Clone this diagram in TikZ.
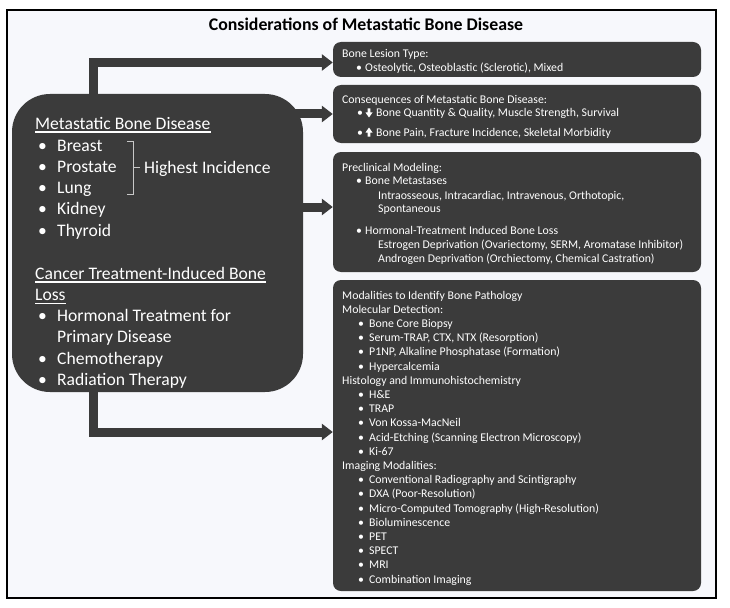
\documentclass[tikz,border=0pt]{standalone}
\usepackage{fontspec}
\setmainfont{Carlito}
\usetikzlibrary{arrows.meta}
\definecolor{boxgray}{HTML}{3B3B3B}
\definecolor{bgtint}{HTML}{F7F8FC}
\definecolor{brk}{HTML}{C8C8C8}
\tikzset{
  box/.style={fill=boxgray, draw=none, rounded corners=8pt, inner sep=0pt, minimum width=368pt},
  sm/.style={font=\fontsize{11.8}{14.2}\selectfont, text=white, anchor=base west, inner sep=0pt},
  lg/.style={font=\fontsize{17.6}{21.3}\selectfont, text=white, anchor=base west, inner sep=0pt},
  conn/.style={line width=9pt, draw=boxgray, -{Triangle[length=11pt,width=16pt]}},
  uline/.style={draw=white, line width=1.1pt},
  icon/.style={fill=white, draw=none},
}
\newcommand{\bsm}{\makebox[9pt][l]{•}}
\newcommand{\bsmw}{\makebox[11pt][l]{•}}
\newcommand{\blg}{\makebox[19pt][l]{•}}
\begin{document}
\begin{tikzpicture}[x=1pt,y=-1pt]
\useasboundingbox (0,0) rectangle (730,607);
\fill[white] (0,0) rectangle (730,607);
\node[draw=black, line width=2pt, fill=bgtint, minimum width=709pt, minimum height=588pt, inner sep=0pt] (frame) at (361.5,304) {};
\node[font=\fontsize{17.8}{21}\selectfont\bfseries, anchor=base, inner sep=0pt] (title) at (366,31) {Considerations of Metastatic Bone Disease};

% boxes
\node[box, rounded corners=38pt, minimum width=291pt, minimum height=298pt] (mbd) at (157.5,243) {};
\node[box, minimum height=35pt] (box1) at (517,59.5) {};
\node[box, minimum height=58pt] (box2) at (517,114) {};
\node[box, minimum height=120pt] (box3) at (517,212) {};
\node[box, minimum height=311pt] (box4) at (517,435.5) {};

% connectors
\coordinate (stem) at (93.5,0);
\coordinate (a1) at ([yshift=-3pt]box1.west);
\coordinate (a3) at ([yshift=5pt]box3.west);
\coordinate (a4) at ([yshift=3.5pt]box4.west);
\draw[conn, shorten <=-4pt] (mbd.north -| stem) |- (a1);
\draw[conn, shorten <=-12pt] (mbd.east |- box2.west) -- (box2.west);
\draw[conn, shorten <=-12pt] (mbd.east |- a3) -- (a3);
\draw[conn, shorten <=-4pt] (mbd.south -| stem) |- (a4);

% left box text
\node[lg] (m0) at (35,129) {Metastatic Bone Disease};
\draw[uline] ([yshift=-3pt]m0.base west) -- ([yshift=-3pt]m0.base east);
\node[lg] (m1) at (38,151) {\blg Breast};
\node[lg] (m2) at (38,172.3) {\blg Prostate};
\node[lg] (m3) at (38,193.6) {\blg Lung};
\node[lg] (m4) at (38,214.9) {\blg Kidney};
\node[lg] (m5) at (38,236.2) {\blg Thyroid};
\coordinate (bk1) at (127,141);
\coordinate (bk2) at (127,194);
\coordinate (bk3) at (133,167.5);
\draw[brk, line width=0.8pt] (bk1) -- ++(6,0) |- (bk2);
\node[lg] (hi) at (144,173) {Highest Incidence};
\draw[brk, line width=0.8pt] (bk3) -- ++(7,0);
\node[lg] (c0) at (35,279) {Cancer Treatment-Induced Bone};
\draw[uline] ([yshift=-3pt]c0.base west) -- ([yshift=-3pt]c0.base east);
\node[lg] (c0b) at (35,300.3) {Loss};
\draw[uline] ([yshift=-3pt]c0b.base west) -- ([yshift=-3pt]c0b.base east);
\node[lg] (c1) at (38,321.6) {\blg Hormonal Treatment for};
\node[lg] (c1b) at (57,342.9) {Primary Disease};
\node[lg] (c2) at (38,364.2) {\blg Chemotherapy};
\node[lg] (c3) at (38,385.5) {\blg Radiation Therapy};

% box 1
\node[sm] (t10) at (342,57.5) {Bone Lesion Type:};
\node[sm] (t11) at (356,72) {\bsm Osteolytic, Osteoblastic (Sclerotic), Mixed};

% box 2
\node[sm] (t20) at (342,103) {Consequences of Metastatic Bone Disease:};
\node[sm] (t21) at (357,117) {•};
\fill[icon] (367.6,108.5) -- (370.4,108.5) -- (370.4,112.5) -- (372.5,112.5) -- (369,117.5) -- (365.5,112.5) -- (367.6,112.5) -- cycle;
\node[sm] (t21b) at (376,117) {Bone Quantity \& Quality, Muscle Strength, Survival};
\node[sm] (t22) at (357,136) {•};
\fill[icon] (367.6,136.5) -- (370.4,136.5) -- (370.4,132.5) -- (372.5,132.5) -- (369,127.5) -- (365.5,132.5) -- (367.6,132.5) -- cycle;
\node[sm] (t22b) at (376,136) {Bone Pain, Fracture Incidence, Skeletal Morbidity};

% box 3
\node[sm] (t30) at (342,171) {Preclinical Modeling:};
\node[sm] (t31) at (356,184) {\bsm Bone Metastases};
\node[sm] (t32) at (378,199) {Intraosseous, Intracardiac, Intravenous, Orthotopic,};
\node[sm] (t33) at (378,212) {Spontaneous};
\node[sm] (t34) at (356,234) {\bsm Hormonal-Treatment Induced Bone Loss};
\node[sm] (t35) at (378,248) {Estrogen Deprivation (Ovariectomy, SERM, Aromatase Inhibitor)};
\node[sm] (t36) at (378,262) {Androgen Deprivation (Orchiectomy, Chemical Castration)};

% box 4
\node[sm] (u0) at (342,299) {Modalities to Identify Bone Pathology};
\node[sm] (u1) at (342,313.2) {Molecular Detection:};
\node[sm] (u2) at (358,327.4) {\bsmw Bone Core Biopsy};
\node[sm] (u3) at (358,341.6) {\bsmw Serum-TRAP, CTX, NTX (Resorption)};
\node[sm] (u4) at (358,355.8) {\bsmw P1NP, Alkaline Phosphatase (Formation)};
\node[sm] (u5) at (358,370) {\bsmw Hypercalcemia};
\node[sm] (u6) at (342,384.2) {Histology and Immunohistochemistry};
\node[sm] (u7) at (358,398.4) {\bsmw H\&E};
\node[sm] (u8) at (358,412.6) {\bsmw TRAP};
\node[sm] (u9) at (358,426.8) {\bsmw Von Kossa-MacNeil};
\node[sm] (u10) at (358,441) {\bsmw Acid-Etching (Scanning Electron Microscopy)};
\node[sm] (u11) at (358,455.2) {\bsmw Ki-67};
\node[sm] (u12) at (342,469.4) {Imaging Modalities:};
\node[sm] (u13) at (358,483.6) {\bsmw Conventional Radiography and Scintigraphy};
\node[sm] (u14) at (358,497.8) {\bsmw DXA (Poor-Resolution)};
\node[sm] (u15) at (358,512) {\bsmw Micro-Computed Tomography (High-Resolution)};
\node[sm] (u16) at (358,526.2) {\bsmw Bioluminescence};
\node[sm] (u17) at (358,540.4) {\bsmw PET};
\node[sm] (u18) at (358,554.6) {\bsmw SPECT};
\node[sm] (u19) at (358,568.8) {\bsmw MRI};
\node[sm] (u20) at (358,583) {\bsmw Combination Imaging};
\end{tikzpicture}
\end{document}
